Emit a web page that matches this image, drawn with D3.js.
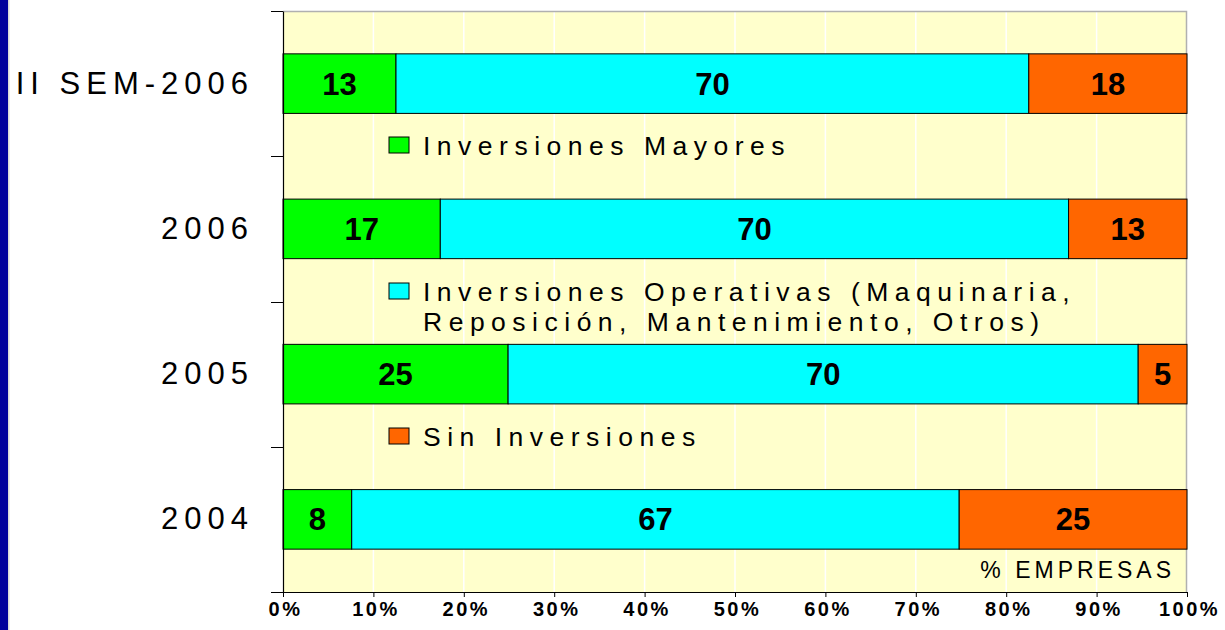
<!doctype html>
<html lang="es">
<head>
<meta charset="utf-8">
<title>Inversiones</title>
<style>
  body { margin: 0; background: #fff; }
  svg { display: block; font-family: "Liberation Sans", Arial, sans-serif; }
  .axis--y path, .axis--x path { stroke: #000; }
  .axis line { stroke: #000; }
</style>
<script src="https://cdn.jsdelivr.net/npm/d3@7"></script>
</head>
<body>
<svg width="1225" height="630"></svg>
<script>

// categorias (de arriba hacia abajo)
var categories = ["II SEM-2006", "2006", "2005", "2004"];
var seriesNames = ["Inversiones Mayores", "Inversiones Operativas", "Sin Inversiones"];
var mayores     = [12.5, 17.4, 24.9, 7.6];
var operativas  = [70.0, 69.5, 69.7, 67.2];
var sinInv      = [17.5, 13.1, 5.4, 25.2];
var xTicks      = [0, 10, 20, 30, 40, 50, 60, 70, 80, 90, 100];
var legendLines = [
  ["Inversiones Mayores"],
  ["Inversiones Operativas (Maquinaria,", "Reposición, Mantenimiento, Otros)"],
  ["Sin Inversiones"]
];
var colors = ["#00ff00", "#00ffff", "#ff6600"];

var svg = d3.select("svg"),
    margin = {top: 11, right: 38, bottom: 38, left: 283},
    width = +svg.attr("width") - margin.left - margin.right,
    height = +svg.attr("height") - margin.top - margin.bottom;

// barra azul de la diapositiva
svg.append("rect").attr("x", 0).attr("y", 0).attr("width", 8).attr("height", 630).attr("fill", "#00009c");
svg.append("rect").attr("x", 8).attr("y", 0).attr("width", 1.5).attr("height", 630).attr("fill", "#d8d8d8");

var g = svg.append("g").attr("transform", "translate(" + margin.left + "," + margin.top + ")");

var x = d3.scaleLinear().domain([0, 100]).range([0, width]);
var y = d3.scaleBand().domain(categories).range([0, height]).paddingInner(0.59).paddingOuter(0.295);

var rows = categories.map(function(c, i) {
  return {cat: c, Mayores: mayores[i], Operativas: operativas[i], Sin: sinInv[i]};
});
var stack = d3.stack().keys(["Mayores", "Operativas", "Sin"]);
var series = stack(rows);

// fondo
g.append("rect").attr("width", width).attr("height", height).attr("fill", "#ffffcc");

// lineas de grilla
g.selectAll(".grid").data(xTicks.slice(1, -1)).enter().append("line")
    .attr("class", "grid")
    .attr("x1", function(d) { return x(d); }).attr("x2", function(d) { return x(d); })
    .attr("y1", 0).attr("y2", height)
    .attr("stroke", "#ffffff").attr("stroke-width", 1.5);

// borde superior y derecho
g.append("path")
    .attr("d", "M0,0.5H" + (width - 0.5) + "V" + height)
    .attr("fill", "none").attr("stroke", "#b0b0b0").attr("stroke-width", 1.5);

// barras
var layer = g.selectAll(".serie").data(series).enter().append("g")
    .attr("class", "serie")
    .attr("fill", function(d, i) { return colors[i]; });

layer.selectAll("rect").data(function(d) { return d; }).enter().append("rect")
    .attr("x", function(d) { return x(d[0]); })
    .attr("y", function(d) { return y(d.data.cat); })
    .attr("width", function(d) { return x(d[1]) - x(d[0]); })
    .attr("height", y.bandwidth())
    .attr("stroke", "#000").attr("stroke-width", 1);

layer.selectAll("text").data(function(d) { return d; }).enter().append("text")
    .attr("x", function(d) { return (x(d[0]) + x(d[1])) / 2; })
    .attr("y", function(d) { return y(d.data.cat) + y.bandwidth() / 2 + 11; })
    .attr("text-anchor", "middle")
    .attr("fill", "#000")
    .style("font", "bold 31px 'Liberation Sans', Arial, sans-serif")
    .text(function(d) { return Math.round(d[1] - d[0]); });

// eje y
var yAxis = g.append("g").attr("class", "axis axis--y")
    .call(d3.axisLeft(y).tickSize(0).tickFormat(""));
yAxis.selectAll(".tick").remove();
var yEdges = categories.map(function(c) { return y(c) - y.step() * y.paddingInner() / 2; });
yEdges[0] = 0;
yEdges.push(height);
g.selectAll(".ytick").data(yEdges).enter().append("line")
    .attr("class", "ytick")
    .attr("x1", -12).attr("x2", 0)
    .attr("y1", function(d) { return Math.round(d) + 0.5; })
    .attr("y2", function(d) { return Math.round(d) + 0.5; })
    .attr("stroke", "#000");

g.selectAll(".ylabel").data(categories).enter().append("text")
    .attr("class", "ylabel")
    .attr("x", -35 + 6)
    .attr("y", function(d) { return y(d) + y.bandwidth() / 2 + 10; })
    .attr("text-anchor", "end")
    .style("font-size", "31px")
    .style("letter-spacing", "6px")
    .attr("fill", "#000")
    .text(function(d) { return d; });

// eje x
var xAxis = g.append("g").attr("class", "axis axis--x")
    .attr("transform", "translate(0," + height + ")")
    .call(d3.axisBottom(x).tickValues(xTicks).tickSize(5).tickSizeOuter(0)
      .tickFormat(function(d) { return d + "%"; }));
xAxis.selectAll("text")
    .attr("y", 24)
    .attr("dy", 0)
    .attr("dx", 2)
    .style("font", "bold 20px 'Liberation Sans', Arial, sans-serif")
    .style("letter-spacing", "2.5px")
    .attr("fill", "#000");
xAxis.select(".domain").attr("stroke-width", 1.2);
yAxis.select(".domain").attr("stroke-width", 1.2);

// leyenda
var legendTop = [126, 272, 417];
var legend = g.selectAll(".legend").data(seriesNames).enter().append("g")
    .attr("class", "legend")
    .attr("transform", function(d, i) { return "translate(106," + legendTop[i] + ")"; });

legend.append("rect")
    .attr("width", 20).attr("height", 16)
    .attr("fill", function(d, i) { return colors[i]; })
    .attr("stroke", "#000").attr("stroke-width", 1);

legend.append("text")
    .attr("x", 34)
    .attr("y", 18)
    .attr("fill", "#000")
    .style("font-size", "26.5px")
    .style("letter-spacing", "6.5px")
    .selectAll("tspan").data(function(d, i) { return legendLines[i]; }).enter().append("tspan")
    .attr("x", 34)
    .attr("dy", function(d, j) { return j ? 30 : 0; })
    .text(function(d) { return d; });

// etiqueta del eje
g.append("text")
    .attr("x", width - 15 + 3)
    .attr("y", height - 14)
    .attr("text-anchor", "end")
    .attr("fill", "#000")
    .style("font-size", "23px")
    .style("letter-spacing", "4px")
    .text("% EMPRESAS");

</script>
</body>
</html>
